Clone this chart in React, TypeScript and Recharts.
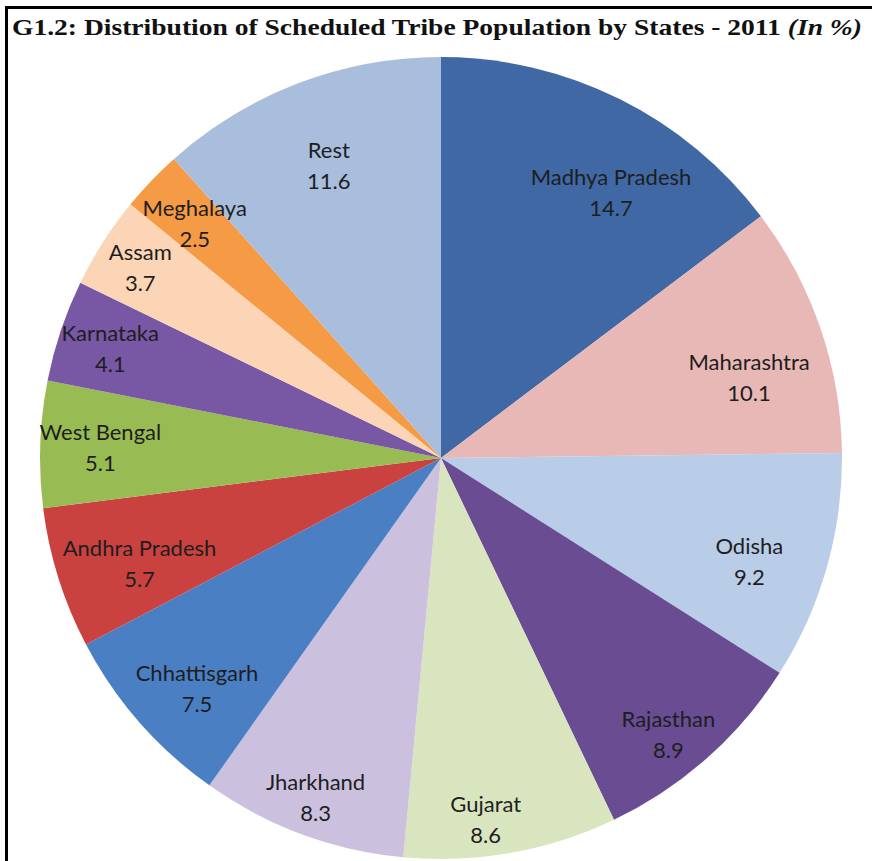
import { PieChart, Pie, Cell } from 'recharts';

const states = [
  'Madhya Pradesh',
  'Maharashtra',
  'Odisha',
  'Rajasthan',
  'Gujarat',
  'Jharkhand',
  'Chhattisgarh',
  'Andhra Pradesh',
  'West Bengal',
  'Karnataka',
  'Assam',
  'Meghalaya',
  'Rest',
];

const shares = [14.7, 10.1, 9.2, 8.9, 8.6, 8.3, 7.5, 5.7, 5.1, 4.1, 3.7, 2.5, 11.6];

const colors = [
  '#4068A4',
  '#E8B8B6',
  '#B9CDE8',
  '#6A4C93',
  '#D8E5BE',
  '#CBC1DF',
  '#4A7FC4',
  '#C9423F',
  '#98BC53',
  '#7857A4',
  '#FBD5B6',
  '#F59A45',
  '#A9BEDD',
];

// label placement (Excel "best fit" look): distance as share of radius, and angle nudge in degrees
const labelRadius = [0.79, 0.795, 0.81, 0.89, 0.905, 0.9, 0.835, 0.795, 0.85, 0.87, 0.89, 0.85, 0.785];
const labelAngleShift = [-6, -4, -2.5, -2, -3, 0, 2, 1.5, 0, 0, 0, 0, 0];

const W = 872;
const H = 861;
const RADIAN = Math.PI / 180;

function SliceLabel({ cx, cy, midAngle, outerRadius, index }: any) {
  const r = outerRadius * labelRadius[index];
  const a = (midAngle + labelAngleShift[index]) * RADIAN;
  const x = cx + r * Math.cos(-a);
  const y = cy + r * Math.sin(-a);
  return (
    <text
      x={x}
      y={y}
      textAnchor="middle"
      fontFamily="Lato, 'Open Sans', sans-serif"
      fontSize={22}
      fill="#1e1e1e"
    >
      <tspan x={x} dy={-6}>{states[index]}</tspan>
      <tspan x={x} dy={31}>{shares[index].toFixed(1)}</tspan>
    </text>
  );
}

export default function App() {
  const data = states.map((name, i) => ({ name, value: shares[i] }));

  return (
    <div style={{ position: 'absolute', left: 0, top: 0, width: W, height: H, background: '#fff', overflow: 'hidden' }}>
      <div style={{ position: 'absolute', left: 0, top: 0 }}>
        <PieChart width={W} height={H} margin={{ top: 0, right: 0, bottom: 0, left: 0 }}>
          <Pie
            data={data}
            dataKey="value"
            nameKey="name"
            cx={441}
            cy={458}
            outerRadius={401}
            startAngle={90}
            endAngle={-270}
            stroke="none"
            label={SliceLabel}
            labelLine={false}
            isAnimationActive={false}
          >
            {data.map((d, i) => (
              <Cell key={d.name} fill={colors[i]} />
            ))}
          </Pie>
        </PieChart>
      </div>
      <svg width={W} height={50} style={{ position: 'absolute', left: 0, top: 0 }}>
        <text
          x={12}
          y={35}
          fontFamily="'Liberation Serif', serif"
          fontWeight="bold"
          fontSize={24}
          fill="#111"
          textLength={850}
          lengthAdjust="spacingAndGlyphs"
        >
          G1.2: Distribution of Scheduled Tribe Population by States - 2011{' '}
          <tspan fontStyle="italic">(In %)</tspan>
        </text>
      </svg>
      <div
        style={{
          position: 'absolute',
          left: 5,
          top: 6,
          width: W,
          height: H,
          borderLeft: '3px solid #000',
          borderTop: '3px solid #000',
          pointerEvents: 'none',
        }}
      />
    </div>
  );
}
